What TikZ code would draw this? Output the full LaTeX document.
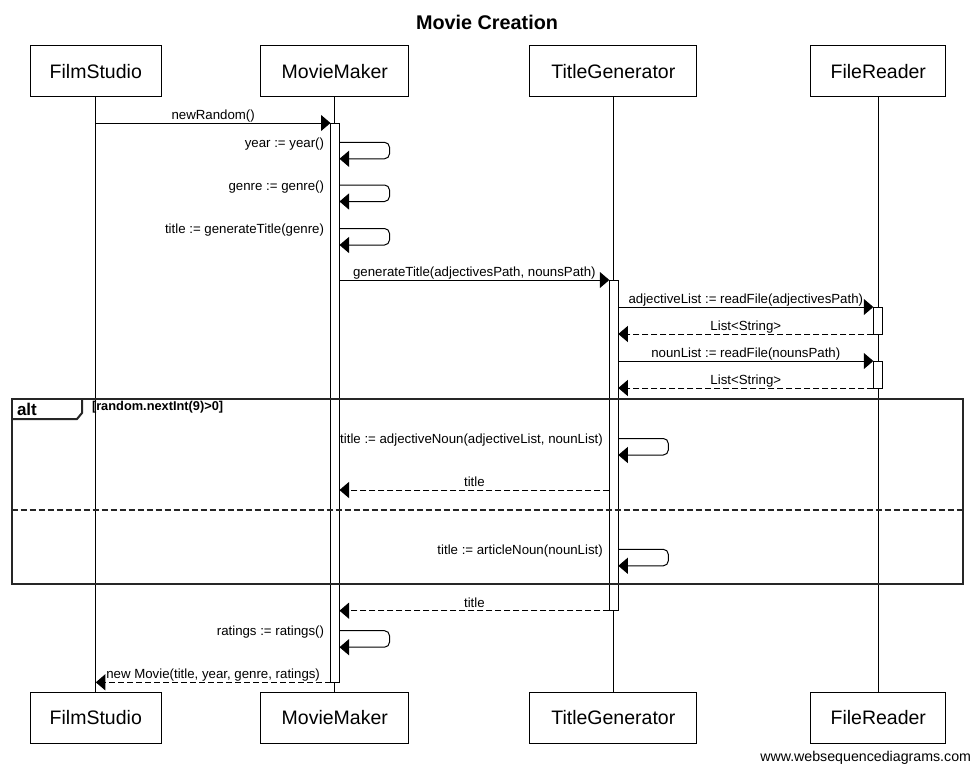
\documentclass[tikz,border=0pt]{standalone}
\usepackage{fontspec}
\setmainfont{Liberation Sans}
\usetikzlibrary{arrows.meta}
\begin{document}
\begin{tikzpicture}[x=1pt,y=-1pt,line width=1pt,
  actor/.style={draw, line width=1pt, minimum width=#1, minimum height=51pt,
    inner sep=0pt, text height=14pt, text depth=0pt,
    font=\fontsize{19.5}{23}\selectfont},
  lifeline/.style={line width=1pt},
  actbar/.style={draw, fill=white, line width=1pt, minimum width=9pt,
    inner sep=0pt, outer sep=0pt, anchor=north},
  msg/.style={line width=1pt, -{Triangle[length=9.5pt,width=16pt]}},
  ret/.style={msg, dash pattern=on 6pt off 3pt},
  selfmsg/.style={msg, rounded corners=5pt},
  lbl/.style={anchor=base, inner sep=0pt, yshift=3.5pt,
    font=\fontsize{13.25}{15}\selectfont},
  selflbl/.style={anchor=base east, inner sep=0pt, xshift=-6pt,
    font=\fontsize{13.25}{15}\selectfont},
  frame/.style={line width=2pt, draw=black!85},
]
\useasboundingbox (0,0) rectangle (973,765);

% title
\node[anchor=base, inner sep=0pt, font=\bfseries\fontsize{19.8}{22}\selectfont]
  (title) at (487,29.3) {Movie Creation};

% participants, top and bottom
\node[actor=131.5pt] (fsT) at (95.8,71.5) {FilmStudio};
\node[actor=147.7pt] (mmT) at (334.8,71.5) {MovieMaker};
\node[actor=166.7pt] (tgT) at (613.3,71.5) {TitleGenerator};
\node[actor=134.7pt] (frT) at (878.3,71.5) {FileReader};
\node[actor=131.5pt] (fsB) at (95.8,717.5) {FilmStudio};
\node[actor=147.7pt] (mmB) at (334.8,717.5) {MovieMaker};
\node[actor=166.7pt] (tgB) at (613.3,717.5) {TitleGenerator};
\node[actor=134.7pt] (frB) at (878.3,717.5) {FileReader};

% lifelines
\draw[lifeline] (fsT) -- (fsB);
\draw[lifeline] (mmT) -- (mmB);
\draw[lifeline] (tgT) -- (tgB);
\draw[lifeline] (frT) -- (frB);

% activation bars
\node[actbar, minimum height=559.3pt] (actMM) at (335,123) {};
\node[actbar, minimum height=330.7pt] (actTG) at (613.8,280) {};
\node[actbar, minimum height=27pt] (actFR1) at (877.8,307) {};
\node[actbar, minimum height=27pt] (actFR2) at (877.8,361) {};

% alt frame
\draw[frame] (11.5,398.5) rectangle (963,583.5);
\draw[frame] (11.5,419) -- (77,419) -- (82,413) -- (82,398.5);
\draw[frame, dash pattern=on 6pt off 3pt] (11.5,510) -- (963,510);
\node[anchor=base west, inner sep=0pt, font=\bfseries\fontsize{17}{20}\selectfont]
  (altlbl) at (16.5,415.5) {alt};
\node[anchor=base west, inner sep=0pt, font=\bfseries\fontsize{12.8}{15}\selectfont]
  (guard) at (91.5,410.5) {[random.nextInt(9)>0]};

% self-message anchor points
\coordinate (sYear)   at (actMM.east |- 0,142.3);
\coordinate (sGenre)  at (actMM.east |- 0,185);
\coordinate (sTitle)  at (actMM.east |- 0,228.5);
\coordinate (sAdj)    at (actTG.east |- 0,438.5);
\coordinate (sArt)    at (actTG.east |- 0,549.3);
\coordinate (sRate)   at (actMM.east |- 0,630.7);
\coordinate (rTitle1) at (actTG.west |- 0,490);

% messages
\draw[msg] (fsT |- actMM.north) -- (actMM.north west)
  node[lbl, midway] {newRandom()};

\draw[selfmsg] (sYear) -- ++(50,0) -- ++(0,16.5) -- ++(-50,0);
\node[selflbl] at (actMM.west |- 0,147.3) {year := year()};

\draw[selfmsg] (sGenre) -- ++(50,0) -- ++(0,16.5) -- ++(-50,0);
\node[selflbl] at (actMM.west |- 0,190) {genre := genre()};

\draw[selfmsg] (sTitle) -- ++(50,0) -- ++(0,16.5) -- ++(-50,0);
\node[selflbl] at (actMM.west |- 0,233.5) {title := generateTitle(genre)};

\draw[msg] (actMM.east |- actTG.north) -- (actTG.north west)
  node[lbl, midway] {generateTitle(adjectivesPath, nounsPath)};

\draw[msg] (actTG.east |- actFR1.north) -- (actFR1.north west)
  node[lbl, midway] {adjectiveList := readFile(adjectivesPath)};
\draw[ret] (actFR1.south west) -- (actTG.east |- actFR1.south)
  node[lbl, midway] {List<String>};

\draw[msg] (actTG.east |- actFR2.north) -- (actFR2.north west)
  node[lbl, midway] {nounList := readFile(nounsPath)};
\draw[ret] (actFR2.south west) -- (actTG.east |- actFR2.south)
  node[lbl, midway] {List<String>};

\draw[selfmsg] (sAdj) -- ++(50,0) -- ++(0,16.5) -- ++(-50,0);
\node[selflbl] at (actTG.west |- 0,443.5) {title := adjectiveNoun(adjectiveList, nounList)};

\draw[ret] (rTitle1) -- (actMM.east |- rTitle1)
  node[lbl, midway] {title};

\draw[selfmsg] (sArt) -- ++(50,0) -- ++(0,16.5) -- ++(-50,0);
\node[selflbl] at (actTG.west |- 0,554.3) {title := articleNoun(nounList)};

\draw[ret] (actTG.south west) -- (actMM.east |- actTG.south)
  node[lbl, midway] {title};

\draw[selfmsg] (sRate) -- ++(50,0) -- ++(0,16.5) -- ++(-50,0);
\node[selflbl] at (actMM.west |- 0,635.7) {ratings := ratings()};

\draw[ret] (actMM.south west) -- (fsT |- actMM.south)
  node[lbl, midway] {new Movie(title, year, genre, ratings)};

% footer
\node[anchor=base east, inner sep=0pt, font=\fontsize{14.2}{16}\selectfont]
  (footer) at (971.5,761.5) {www.websequencediagrams.com};
\end{tikzpicture}
\end{document}
